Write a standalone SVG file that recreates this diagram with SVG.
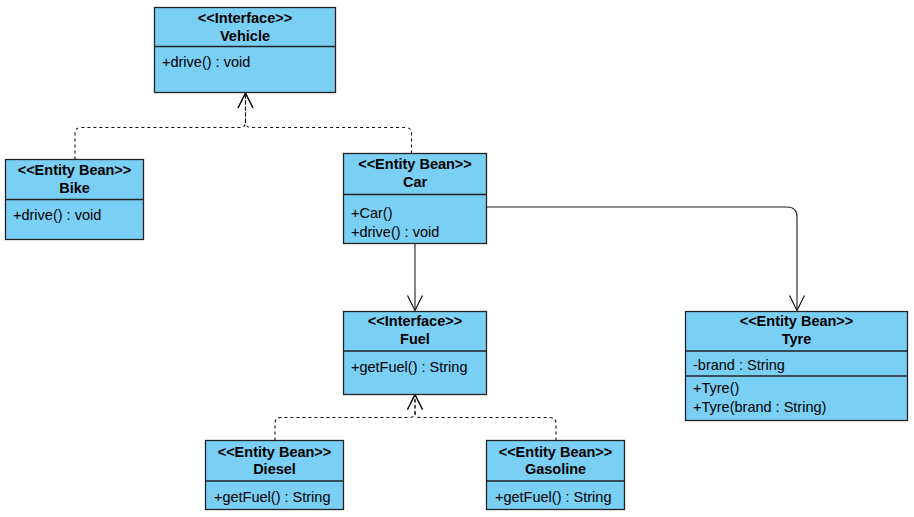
<svg xmlns="http://www.w3.org/2000/svg" width="914" height="517" viewBox="0 0 914 517">
  <style>
    .box { fill: #7ACFF5; stroke: #222; stroke-width: 1.3; }
    .div { stroke: #222; stroke-width: 1.3; }
    .st { font-family: "Liberation Sans", Arial, sans-serif; font-size: 14.5px; font-weight: bold; text-anchor: middle; fill: #000; }
    .op { font-family: "Liberation Sans", Arial, sans-serif; font-size: 14.5px; fill: #000; }
    .dep { fill: none; stroke: #111; stroke-width: 1.1; stroke-dasharray: 3 3; }
    .assoc { fill: none; stroke: #222; stroke-width: 1.1; }
    .head { fill: none; stroke: #111; stroke-width: 1.2; }
  </style>
  <defs>
    <marker id="open" markerUnits="userSpaceOnUse" markerWidth="18" markerHeight="18" refX="15" refY="8" orient="auto" overflow="visible">
      <path class="head" d="M0,0.5 L15,8 L0,15.5"/>
    </marker>
  </defs>
  <rect width="914" height="517" fill="#fff"/>

  <!-- connectors -->
  <g id="connectors">
    <path class="dep" d="M75,159.5 V133 Q75,127.5 81,127.5 H240 Q245.5,127.5 245.5,122 V93" marker-end="url(#open)"/>
    <path class="dep" d="M411.5,153.5 V133 Q411.5,127.5 405.5,127.5 H251 Q245.5,127.5 245.5,122 V93" marker-end="url(#open)"/>
    <path class="assoc" d="M415,244 V310.5" marker-end="url(#open)"/>
    <path class="assoc" d="M486.5,207 H787 Q797,207 797,217 V310.5" marker-end="url(#open)"/>
    <path class="dep" d="M275,440.5 V423 Q275,417.5 281,417.5 H409.5 Q415,417.5 415,412 V394.5" marker-end="url(#open)"/>
    <path class="dep" d="M556,440.5 V423 Q556,417.5 550,417.5 H420.5 Q415,417.5 415,412 V394.5" marker-end="url(#open)"/>
  </g>

  <!-- Vehicle -->
  <g id="vehicle">
    <rect class="box" x="154.5" y="7.5" width="181" height="85"/>
    <line class="div" x1="154.5" y1="46.5" x2="335.5" y2="46.5"/>
    <text class="st" x="245" y="23">&lt;&lt;Interface&gt;&gt;</text>
    <text class="st" x="245" y="41">Vehicle</text>
    <text class="op" x="162" y="67">+drive() : void</text>
  </g>

  <!-- Bike -->
  <g id="bike">
    <rect class="box" x="5.5" y="159.5" width="138" height="80"/>
    <line class="div" x1="5.5" y1="199.5" x2="143.5" y2="199.5"/>
    <text class="st" x="74.5" y="175">&lt;&lt;Entity Bean&gt;&gt;</text>
    <text class="st" x="74.5" y="193">Bike</text>
    <text class="op" x="13" y="219.5">+drive() : void</text>
  </g>

  <!-- Car -->
  <g id="car">
    <rect class="box" x="343.5" y="153.5" width="143" height="90"/>
    <line class="div" x1="343.5" y1="194.5" x2="486.5" y2="194.5"/>
    <text class="st" x="415" y="169">&lt;&lt;Entity Bean&gt;&gt;</text>
    <text class="st" x="415" y="187">Car</text>
    <text class="op" x="351" y="218">+Car()</text>
    <text class="op" x="351" y="237">+drive() : void</text>
  </g>

  <!-- Fuel -->
  <g id="fuel">
    <rect class="box" x="343.5" y="311.5" width="143" height="83"/>
    <line class="div" x1="343.5" y1="351" x2="486.5" y2="351"/>
    <text class="st" x="415" y="326">&lt;&lt;Interface&gt;&gt;</text>
    <text class="st" x="415" y="344">Fuel</text>
    <text class="op" x="351" y="372">+getFuel() : String</text>
  </g>

  <!-- Tyre -->
  <g id="tyre">
    <rect class="box" x="685.5" y="311.5" width="222" height="109"/>
    <line class="div" x1="685.5" y1="351" x2="907.5" y2="351"/>
    <line class="div" x1="685.5" y1="376" x2="907.5" y2="376"/>
    <text class="st" x="796.5" y="326">&lt;&lt;Entity Bean&gt;&gt;</text>
    <text class="st" x="796.5" y="344">Tyre</text>
    <text class="op" x="693" y="370">-brand : String</text>
    <text class="op" x="693" y="393">+Tyre()</text>
    <text class="op" x="693" y="412">+Tyre(brand : String)</text>
  </g>

  <!-- Diesel -->
  <g id="diesel">
    <rect class="box" x="205.5" y="440.5" width="138" height="69"/>
    <line class="div" x1="205.5" y1="481" x2="343.5" y2="481"/>
    <text class="st" x="274.5" y="457">&lt;&lt;Entity Bean&gt;&gt;</text>
    <text class="st" x="274.5" y="474">Diesel</text>
    <text class="op" x="214" y="502">+getFuel() : String</text>
  </g>

  <!-- Gasoline -->
  <g id="gasoline">
    <rect class="box" x="486.5" y="440.5" width="138" height="69"/>
    <line class="div" x1="486.5" y1="481" x2="624.5" y2="481"/>
    <text class="st" x="555.5" y="457">&lt;&lt;Entity Bean&gt;&gt;</text>
    <text class="st" x="555.5" y="474">Gasoline</text>
    <text class="op" x="495" y="502">+getFuel() : String</text>
  </g>
</svg>
